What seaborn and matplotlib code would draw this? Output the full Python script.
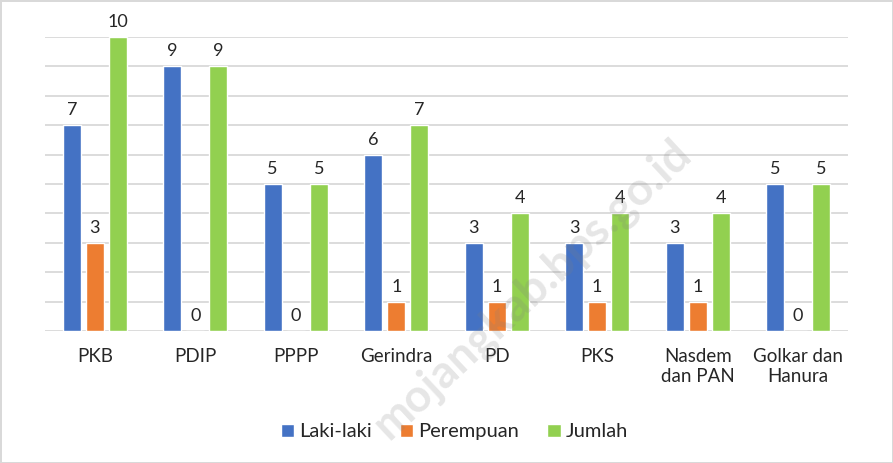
import matplotlib
matplotlib.use("Agg")
import matplotlib.pyplot as plt
import seaborn as sns
import pandas as pd

categories = ["PKB", "PDIP", "PPPP", "Gerindra", "PD", "PKS", "Nasdem\ndan PAN", "Golkar dan\nHanura"]
laki = [7, 9, 5, 6, 3, 3, 3, 5]
perempuan = [3, 0, 0, 1, 1, 1, 1, 0]
jumlah = [10, 9, 5, 7, 4, 4, 4, 5]
series = ["Laki-laki", "Perempuan", "Jumlah"]
colors = ["#4472C4", "#ED7D31", "#92D050"]

rows = []
for name, vals in zip(series, [laki, perempuan, jumlah]):
    for c, v in zip(categories, vals):
        rows.append({"Partai": c, "Jenis": name, "Nilai": v})
df = pd.DataFrame(rows)

sns.set_theme(style="white")
plt.rcParams["font.family"] = ["Lato", "DejaVu Sans"]

fig = plt.figure(figsize=(8.93, 4.63), dpi=100)
fig.patch.set_edgecolor("#D9D9D9")
fig.patch.set_linewidth(2)
ax = fig.add_axes([0.050, 0.285, 0.900, 0.635])

sns.barplot(data=df, x="Partai", y="Nilai", hue="Jenis", order=categories,
            hue_order=series, palette=colors, width=0.69, gap=0.22,
            saturation=1, ax=ax, legend=True, zorder=3)

ax.set_ylim(0, 10)
ax.set_yticks(range(0, 11))
ax.set_yticklabels([])
ax.yaxis.grid(True, color="#D9D9D9", linewidth=1.3, zorder=0)
ax.set_axisbelow(True)
ax.tick_params(axis="x", length=0, labelsize=13.5, colors="#262626", pad=12)
ax.tick_params(axis="y", length=0)
for s in ax.spines.values():
    s.set_visible(False)
ax.set_xlabel("")
ax.set_ylabel("")
ax.set_xlim(-0.5, len(categories) - 0.5)

for cont in ax.containers:
    ax.bar_label(cont, labels=[f"{int(v)}" for v in cont.datavalues], padding=5,
                 fontsize=13, color="#262626", clip_on=False)

ax.legend(loc="center", bbox_to_anchor=(0.51, -0.343), ncol=3,
          frameon=False, fontsize=14.5, handlelength=0.65, handleheight=0.65,
          handletextpad=0.25, columnspacing=1.4, labelcolor="#262626")

fig.text(0.596, 0.375, "mojangkab.bps.go.id", rotation=43, fontsize=33,
         fontweight="bold", color="#808080", alpha=0.2,
         ha="center", va="center", zorder=10)

fig.savefig("out.png", dpi=100, edgecolor=fig.get_edgecolor())
